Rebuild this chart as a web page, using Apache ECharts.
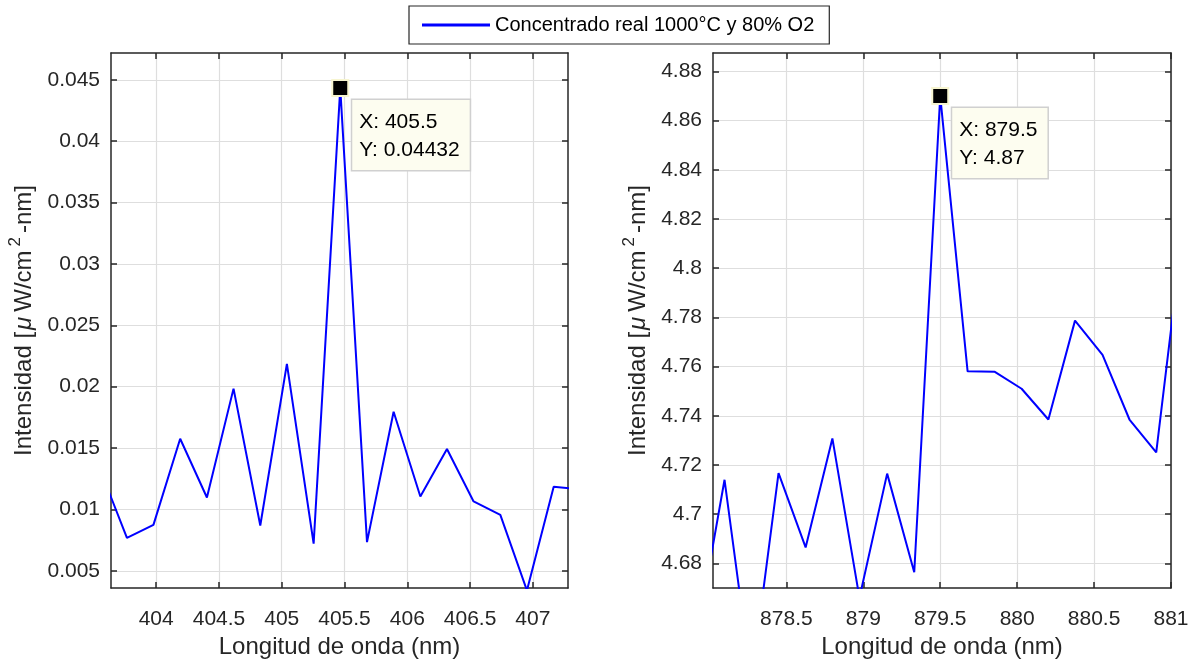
<!DOCTYPE html>
<html>
<head>
<meta charset="utf-8">
<script src="https://cdn.jsdelivr.net/npm/echarts@6/dist/echarts.min.js"></script>
<style>
html,body{margin:0;padding:0;background:#fff;}
#c{width:1196px;height:664px;}
</style>
</head>
<body>
<div id="c"></div>
<script>
// ---- data ----
const seriesName = 'Concentrado real 1000°C y 80% O2';
const leftX = [403.554, 403.767, 403.978, 404.191, 404.404, 404.616, 404.829, 405.041, 405.254, 405.466, 405.679, 405.891, 406.104, 406.316, 406.528, 406.741, 406.953, 407.166, 407.378];
const leftY = [0.01324, 0.00769, 0.00874, 0.01576, 0.01097, 0.01984, 0.00869, 0.02185, 0.00721, 0.04432, 0.00734, 0.01796, 0.01105, 0.01492, 0.01065, 0.00955, 0.0034, 0.01185, 0.01162];
const rightX = [877.923, 878.098, 878.273, 878.449, 878.625, 878.799, 878.975, 879.155, 879.331, 879.5, 879.678, 879.855, 880.029, 880.203, 880.376, 880.555, 880.730, 880.904, 881.077];
const rightY = [4.652, 4.714, 4.632, 4.7167, 4.6865, 4.7308, 4.666, 4.7165, 4.6764, 4.87, 4.7581, 4.7579, 4.751, 4.7385, 4.7787, 4.7648, 4.7385, 4.7251, 4.815];
const leftXTicks = [404, 404.5, 405, 405.5, 406, 406.5, 407];
const leftYTicks = [0.005, 0.01, 0.015, 0.02, 0.025, 0.03, 0.035, 0.04, 0.045];
const rightXTicks = [878.5, 879, 879.5, 880, 880.5, 881];
const rightYTicks = [4.68, 4.7, 4.72, 4.74, 4.76, 4.78, 4.8, 4.82, 4.84, 4.86, 4.88];
const leftTip = {x: 405.466, y: 0.04432, text: 'X: 405.5\nY: 0.04432'};
const rightTip = {x: 879.5, y: 4.87, text: 'X: 879.5\nY: 4.87'};
const xTitle = 'Longitud de onda (nm)';
const yTitle = '{n|Intensidad [}{i|μ}{n|W/cm}{s|2}{n|-nm]}';

// ---- styling ----
const FONT = 'Liberation Sans, Arial, Helvetica, sans-serif';
const AX = '#262626';
const GRIDC = '#dedede';
const fmt = v => String(+(+v).toFixed(6));

function mainAxis(type, gridIndex, min, max, ticks, pos, name, nameGap) {
  return {
    type: 'value', gridIndex, min, max, position: pos,
    name, nameLocation: 'middle', nameGap,
    nameTextStyle: {
      fontFamily: FONT, fontSize: 24, color: AX,
      rich: {
        n: {fontFamily: FONT, fontSize: 24, color: AX, lineHeight: 34},
        i: {fontFamily: FONT, fontSize: 24, color: AX, fontStyle: 'italic', lineHeight: 34, padding: [0, 5, 0, 2]},
        s: {fontFamily: FONT, fontSize: 17, color: AX, lineHeight: 17, verticalAlign: 'top', padding: [0, 4, 0, 4]}
      }
    },
    axisLine: {show: true, onZero: false, lineStyle: {color: AX, width: 1.5}},
    axisTick: {show: true, inside: true, length: 6, customValues: ticks, lineStyle: {color: AX, width: 1.5}},
    axisLabel: {show: true, customValues: ticks, formatter: fmt, fontFamily: FONT, fontSize: 21, color: AX, margin: type === 'x' ? 21 : 11},
    splitLine: {show: true, lineStyle: {color: GRIDC, width: 1.2}}
  };
}
function sideAxis(gridIndex, min, max, ticks, pos) {
  return {
    type: 'value', gridIndex, min, max, position: pos,
    axisLine: {show: true, onZero: false, lineStyle: {color: AX, width: 1.5}},
    axisTick: {show: true, inside: true, length: 6, customValues: ticks, lineStyle: {color: AX, width: 1.5}},
    axisLabel: {show: false},
    splitLine: {show: false}
  };
}
function tipMark(tip, pos) {
  return {
    symbol: 'rect', symbolSize: 16, silent: true,
    itemStyle: {color: '#000', borderColor: '#f7f5d0', borderWidth: 2},
    label: {
      show: true, formatter: tip.text, position: pos, align: 'left', verticalAlign: 'top',
      fontFamily: FONT, fontSize: 21, lineHeight: 28, color: '#000',
      backgroundColor: '#fdfdf0', borderColor: '#d0d0d0', borderWidth: 1.5,
      padding: [8, 10, 6, 7]
    },
    data: [{coord: [tip.x, tip.y]}]
  };
}

const lxMin = 403.64, lxMax = 407.28, lyMin = 0.0036, lyMax = 0.04718;
const rxMin = 878.023, rxMax = 881.0, ryMin = 4.67, ryMax = 4.8875;

const option = {
  animation: false,
  backgroundColor: '#fff',
  legend: {
    data: [seriesName], left: 409, top: 6,
    padding: [9, 15, 9, 13], borderColor: AX, borderWidth: 1.2,
    icon: 'rect', itemWidth: 68, itemHeight: 3, itemGap: 6,
    textStyle: {fontFamily: FONT, fontSize: 20, color: '#000'}
  },
  grid: [
    {left: 111, top: 53, width: 457, height: 540, containLabel: false},
    {left: 713, top: 53, width: 458, height: 540, containLabel: false}
  ],
  xAxis: [
    mainAxis('x', 0, lxMin, lxMax, leftXTicks, 'bottom', xTitle, 47),
    sideAxis(0, lxMin, lxMax, leftXTicks, 'top'),
    mainAxis('x', 1, rxMin, rxMax, rightXTicks, 'bottom', xTitle, 47),
    sideAxis(1, rxMin, rxMax, rightXTicks, 'top')
  ],
  yAxis: [
    mainAxis('y', 0, lyMin, lyMax, leftYTicks, 'left', yTitle, 70),
    sideAxis(0, lyMin, lyMax, leftYTicks, 'right'),
    mainAxis('y', 1, ryMin, ryMax, rightYTicks, 'left', yTitle, 58),
    sideAxis(1, ryMin, ryMax, rightYTicks, 'right')
  ],
  series: [
    {
      name: seriesName, type: 'line', xAxisIndex: 0, yAxisIndex: 0,
      data: leftX.map((x, i) => [x, leftY[i]]),
      symbol: 'none', clip: true,
      lineStyle: {color: '#0000ff', width: 2}, itemStyle: {color: '#0000ff'},
      markPoint: tipMark(leftTip, [21, 21])
    },
    {
      name: seriesName, type: 'line', xAxisIndex: 2, yAxisIndex: 2,
      data: rightX.map((x, i) => [x, rightY[i]]),
      symbol: 'none', clip: true,
      lineStyle: {color: '#0000ff', width: 2}, itemStyle: {color: '#0000ff'},
      markPoint: tipMark(rightTip, [21, 21])
    }
  ]
};
const chart = echarts.init(document.getElementById('c'), null, {renderer: 'canvas'});
chart.setOption(option);
</script>
</body>
</html>
